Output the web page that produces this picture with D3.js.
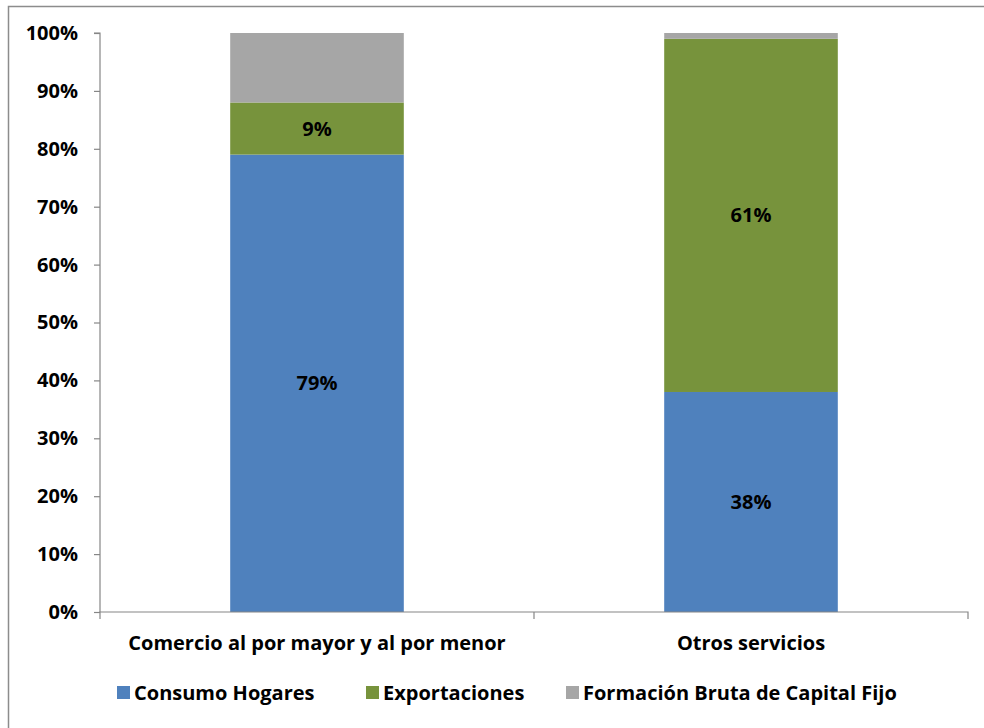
<!DOCTYPE html>
<html>
<head>
<meta charset="utf-8">
<script src="https://cdn.jsdelivr.net/npm/d3@7"></script>
<style>
  body { margin: 0; background: #fff; }
  svg text { font-family: "Liberation Sans Narrow", "Open Sans", sans-serif; font-weight: bold; fill: #000; }
</style>
</head>
<body>
<div id="chart"></div>
<script>
// categories and series (percent shares)
const categories = ['Comercio al por mayor y al por menor', 'Otros servicios']
const seriesNames = ['Consumo Hogares', 'Exportaciones', 'Formación Bruta de Capital Fijo']
const consumo = [79, 38]
const exportaciones = [9, 61]
const formacion = [12, 1]
const labelled = [true, true, false] // which series show data labels
const yTicks = [0, 10, 20, 30, 40, 50, 60, 70, 80, 90, 100]

const colors = ['#4F81BD', '#77933C', '#A6A6A6']

const width = 984
const height = 728
const padding = { top: 33, right: 16, bottom: 116, left: 100 }
const plotW = width - padding.left - padding.right
const plotH = height - padding.top - padding.bottom

const rows = categories.map((c, i) => ({
  cat: c,
  'Consumo Hogares': consumo[i],
  'Exportaciones': exportaciones[i],
  'Formación Bruta de Capital Fijo': formacion[i]
}))
const stacked = d3.stack().keys(seriesNames)(rows)

const xScale = d3.scaleBand().domain(categories).range([0, plotW]).paddingInner(0.6).paddingOuter(0.3)
const yScale = d3.scaleLinear().domain([0, 100]).range([plotH, 0])

const svg = d3.select('#chart').append('svg').attr('width', width).attr('height', height)

// outer chart border
svg.append('rect')
  .attr('x', 8.5).attr('y', 6.5).attr('width', width).attr('height', height)
  .attr('fill', 'none').attr('stroke', '#8c8c8c').attr('stroke-width', 1.5)

const g = svg.append('g').attr('transform', `translate(${padding.left} ${padding.top})`)

// bars
const layers = g.selectAll('.layer').data(stacked).enter().append('g')
  .attr('class', 'layer')
  .attr('fill', (d, i) => colors[i])

layers.selectAll('rect').data(d => d).enter().append('rect')
  .attr('x', d => xScale(d.data.cat))
  .attr('width', xScale.bandwidth())
  .attr('y', d => yScale(d[1]))
  .attr('height', d => yScale(d[0]) - yScale(d[1]))

// data labels
stacked.forEach((layer, i) => {
  if (!labelled[i]) return
  g.append('g').selectAll('text').data(layer).enter().append('text')
    .attr('x', d => xScale(d.data.cat) + xScale.bandwidth() / 2)
    .attr('y', d => yScale((d[0] + d[1]) / 2))
    .attr('dy', '0.35em')
    .attr('text-anchor', 'middle')
    .style('font-size', '20px')
    .text(d => (d[1] - d[0]) + '%')
})

// y axis
const yAxis = g.append('g')
  .call(d3.axisLeft(yScale).tickValues(yTicks).tickFormat(d => d + '%').tickSize(6).tickPadding(16))
yAxis.select('.domain').attr('stroke', '#868686').attr('stroke-width', 1.2).attr('d', `M0,${plotH}V0H-6`)
yAxis.selectAll('.tick line').attr('stroke', '#868686').attr('stroke-width', 1.2)
yAxis.selectAll('text').style('font-size', '20px').attr('font-family', null)

// x axis
const xAxis = g.append('g').attr('transform', `translate(0 ${plotH})`)
xAxis.append('path')
  .attr('d', `M0,7V0H${plotW}V7`)
  .attr('fill', 'none').attr('stroke', '#868686').attr('stroke-width', 1.2)
xAxis.append('g').selectAll('line').data(categories.slice(1)).enter().append('line')
  .attr('x1', d => xScale(d) - xScale.step() * xScale.paddingInner() / 2)
  .attr('x2', d => xScale(d) - xScale.step() * xScale.paddingInner() / 2)
  .attr('y1', 0).attr('y2', 7)
  .attr('stroke', '#868686').attr('stroke-width', 1.2)
xAxis.append('g').selectAll('text').data(categories).enter().append('text')
  .attr('x', d => xScale(d) + xScale.bandwidth() / 2)
  .attr('y', 38)
  .attr('text-anchor', 'middle')
  .style('font-size', '20px')
  .text(d => d)

// legend
const legendX = [117, 366, 566]
const legend = svg.append('g').attr('transform', 'translate(0 693)')
const items = legend.selectAll('g').data(seriesNames).enter().append('g')
  .attr('transform', (d, i) => `translate(${legendX[i]} 0)`)
items.append('rect')
  .attr('x', 0).attr('y', -7).attr('width', 13).attr('height', 13)
  .attr('fill', (d, i) => colors[i])
items.append('text')
  .attr('x', 17).attr('dy', '0.35em')
  .style('font-size', '20px')
  .text(d => d)
</script>
</body>
</html>
